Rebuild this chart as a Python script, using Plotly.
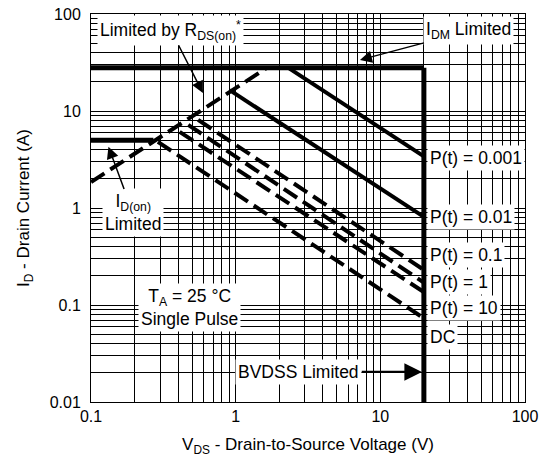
import plotly.graph_objects as go
import numpy as np

# ---- data (V, A) ----
v_idm = [0.1, 20]
i_idm = [28, 28]
v_bvdss = [20, 20]
i_bvdss = [28, 0.01]
v_idon = [0.1, 0.27]
i_idon = [5, 5]
v_rds = [0.1, 1.65]
i_rds = [1.85, 28]
v_p0001 = [2.3, 20]
i_p0001 = [28, 3.4]
v_p001 = [0.91, 20]
i_p001 = [16.4, 0.81]
v_p01 = [0.55, 20]
i_p01 = [8.1, 0.23]
v_p1 = [0.47, 20]
i_p1 = [7.2, 0.17]
v_p10 = [0.41, 20]
i_p10 = [6.1, 0.136]
v_dc = [0.29, 20]
i_dc = [4.8, 0.073]

x_ticks = [0.1, 1, 10, 100]
x_ticklabels = ["0.1", "1", "10", "100"]
y_ticks = [0.01, 0.1, 1, 10, 100]
y_ticklabels = ["0.01", "0.1", "1", "10", "100"]

FONT = "Liberation Sans, Arial, Helvetica, sans-serif"
LBL = 17.5
DASH = "16px,7px"

fig = go.Figure()

def add_line(v, i, width=4, dash=None):
    fig.add_trace(go.Scatter(x=v, y=i, mode="lines",
                             line=dict(color="black", width=width, dash=dash),
                             showlegend=False, hoverinfo="skip"))

add_line(v_idm, i_idm, 5)
add_line(v_bvdss, i_bvdss, 5)
add_line(v_idon, i_idon, 5)
add_line(v_rds, i_rds, 4, DASH)
add_line(v_p0001, i_p0001, 4)
add_line(v_p001, i_p001, 4)
add_line(v_p01, i_p01, 4, DASH)
add_line(v_p1, i_p1, 4, DASH)
add_line(v_p10, i_p10, 4, DASH)
add_line(v_dc, i_dc, 4, DASH)

minor_x = [m * 10.0 ** d for d in range(-1, 2) for m in range(2, 10)]
minor_y = [m * 10.0 ** d for d in range(-2, 2) for m in range(2, 10)]

fig.update_xaxes(type="log", range=[-1, 2], tickvals=x_ticks, ticktext=x_ticklabels,
                 showgrid=True, gridcolor="black", gridwidth=1,
                 minor=dict(tickvals=minor_x, showgrid=True, gridcolor="black", gridwidth=1),
                 showline=True, mirror=True, linecolor="black", linewidth=1,
                 ticks="", zeroline=False,
                 tickfont=dict(size=16, color="black", family=FONT),
                 title=dict(text="V<sub>DS</sub> - Drain-to-Source Voltage (V)",
                            font=dict(size=17, color="black", family=FONT), standoff=17))
fig.update_yaxes(type="log", range=[-2, 2], tickvals=y_ticks, ticktext=y_ticklabels,
                 showgrid=True, gridcolor="black", gridwidth=1,
                 minor=dict(tickvals=minor_y, showgrid=True, gridcolor="black", gridwidth=1),
                 showline=True, mirror=True, linecolor="black", linewidth=1,
                 ticks="", zeroline=False, ticklabelstandoff=6,
                 tickfont=dict(size=16, color="black", family=FONT),
                 title=dict(text="I<sub>D</sub> - Drain Current (A)",
                            font=dict(size=17, color="black", family=FONT), standoff=15))

lg = np.log10

def text_ann(text, x, y, xanchor="center", head=None, aw=1.5):
    kw = dict(text=text, xref="x", yref="y", bgcolor="white", borderpad=2,
              font=dict(size=LBL, color="black", family=FONT))
    if head is None:
        fig.add_annotation(x=lg(x), y=lg(y), showarrow=False, xanchor=xanchor, **kw)
    else:
        fig.add_annotation(x=lg(head[0]), y=lg(head[1]), ax=lg(x), ay=lg(y),
                           axref="x", ayref="y", showarrow=True, arrowhead=2,
                           arrowsize=1.6, arrowwidth=aw, arrowcolor="black", **kw)

# labels (with arrows pointing at limits)
text_ann("Limited by R<sub>DS(on)</sub><sup>*</sup>", 0.357, 68, head=(0.594, 15.3))
text_ann("I<sub>DM</sub> Limited", 41, 67, head=(7.23, 33.6))
text_ann("I<sub>D(on)</sub><br>Limited", 0.195, 0.89, head=(0.132, 4.29))
text_ann("T<sub>A</sub> = 25 °C<br>Single Pulse", 0.48, 0.095)
text_ann("BVDSS Limited", 2.73, 0.0204, head=(19.4, 0.0204), aw=2.2)
text_ann("P(t) = 0.001", 21.0, 3.27, xanchor="left")
text_ann("P(t) = 0.01", 21.0, 0.81, xanchor="left")
text_ann("P(t) = 0.1", 21.0, 0.33, xanchor="left")
text_ann("P(t) = 1", 21.0, 0.174, xanchor="left")
text_ann("P(t) = 10", 21.0, 0.0925, xanchor="left")
text_ann("DC", 21.0, 0.047, xanchor="left")

fig.update_layout(width=541, height=457, plot_bgcolor="white", paper_bgcolor="white",
                  margin=dict(l=91, r=16, t=14, b=55, autoexpand=False),
                  font=dict(family=FONT, color="black"))

fig.write_html("out.html", config={"displayModeBar": False},
               post_script="document.body.style.margin='0';document.body.style.padding='0';")
